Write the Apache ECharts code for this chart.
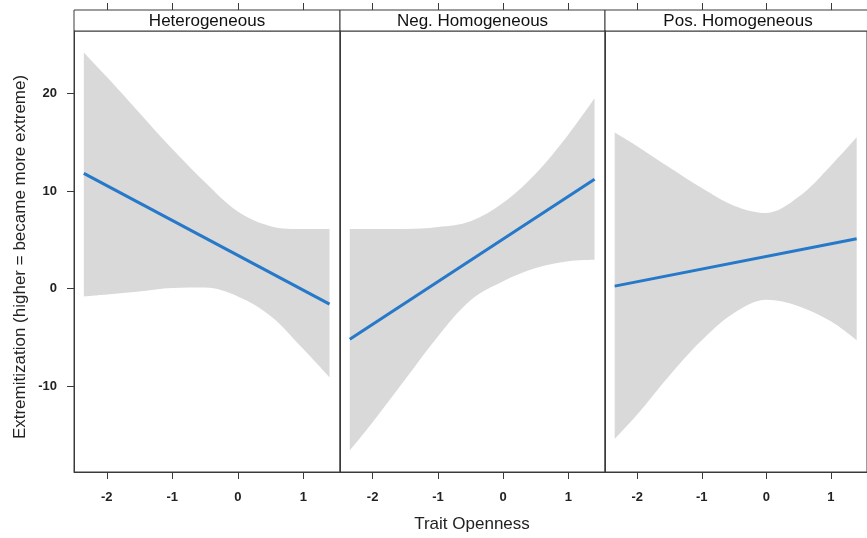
<!DOCTYPE html>
<html>
<head>
<meta charset="utf-8">
<script src="https://cdn.jsdelivr.net/npm/echarts@6/dist/echarts.min.js"></script>
<style>html,body{margin:0;padding:0;background:#fff}#c{width:867px;height:538px}</style>
</head>
<body>
<div id="c"></div>
<script>
// ---- data ----
const panels = ['Heterogeneous', 'Neg. Homogeneous', 'Pos. Homogeneous'];
const bandX = [-2.35, -2, -1.5, -1, -0.5, 0, 0.5, 1, 1.4];
const upperHet = [24.2, 21.7, 18.0, 14.3, 10.9, 7.9, 6.4, 6.1, 6.1];
const lowerHet = [-0.8, -0.6, -0.3, 0.05, 0.1, -0.8, -2.8, -6.2, -9.1];
const upperNeg = [6.1, 6.1, 6.1, 6.3, 6.9, 8.8, 11.8, 15.8, 19.5];
const lowerNeg = [-16.6, -13.7, -9.3, -4.9, -1.2, 0.75, 2.1, 2.8, 2.95];
const upperPos = [16.0, 14.6, 12.4, 10.3, 8.5, 7.75, 9.4, 12.6, 15.5];
const lowerPos = [-15.4, -12.9, -8.9, -5.3, -2.5, -1.15, -1.8, -3.35, -5.3];
const fitX = [-2.35, 1.4];
const fitHet = [11.8, -1.6];
const fitNeg = [-5.2, 11.2];
const fitPos = [0.25, 5.1];
const xTicks = [-2, -1, 0, 1];
const yTicks = [-10, 0, 10, 20];

const uppers = [upperHet, upperNeg, upperPos];
const lowers = [lowerHet, lowerNeg, lowerPos];
const fits = [fitHet, fitNeg, fitPos];

const FONT = '"Liberation Sans", Arial, sans-serif';
const AX = '#3a3a3a';
const xMin = -2.5, xMax = 1.56, yMin = -18.8, yMax = 26.4;
const lefts = [74, 340, 605];
const widths = [266, 265, 266];
const TOP = 31, H = 441, STRIP = 21;

const chart = echarts.init(document.getElementById('c'), null, {renderer: 'canvas'});

const grid = [], xAxis = [], yAxis = [], series = [], graphic = [];
for (let i = 0; i < 3; i++) {
  grid.push({left: lefts[i], top: TOP, width: widths[i], height: H, show: true,
    borderColor: AX, borderWidth: 1, backgroundColor: 'transparent'});
  xAxis.push({type: 'value', gridIndex: i, min: xMin, max: xMax, position: 'bottom', z: 10,
    splitLine: {show: false},
    axisLine: {show: true, onZero: false, lineStyle: {color: AX, width: 1}},
    axisTick: {show: true, length: 7, customValues: xTicks, lineStyle: {color: AX}},
    axisLabel: {customValues: xTicks, margin: 19, fontFamily: FONT, fontWeight: 'bold', fontSize: 13, color: '#222'}
  });
  yAxis.push({type: 'value', gridIndex: i, min: yMin, max: yMax, z: 10,
    splitLine: {show: false},
    axisLine: {show: true, onZero: false, lineStyle: {color: AX, width: 1}},
    axisTick: {show: i === 0, length: 7, customValues: yTicks, lineStyle: {color: AX}},
    axisLabel: {show: i === 0, customValues: yTicks, margin: 17, fontFamily: FONT, fontWeight: 'bold', fontSize: 13, color: '#222'}
  });
}
// top tick axes (above the strips)
for (let i = 0; i < 3; i++) {
  xAxis.push({type: 'value', gridIndex: i, min: xMin, max: xMax, position: 'top', offset: STRIP,
    splitLine: {show: false},
    axisLine: {show: false, onZero: false},
    axisTick: {show: true, length: 7, customValues: xTicks, lineStyle: {color: AX}},
    axisLabel: {show: false}
  });
}
for (let i = 0; i < 3; i++) {
  const lo = lowers[i], up = uppers[i];
  // data stored as [y, x] so that the stacked dimension is y
  series.push({type: 'line', name: 'lo' + i, xAxisIndex: i, yAxisIndex: i,
    data: bandX.map((x, j) => [lo[j], x]), encode: {x: 1, y: 0},
    stack: 'band' + i, stackStrategy: 'all', smooth: 0.35, symbol: 'none',
    lineStyle: {opacity: 0}, silent: true, z: 1});
  series.push({type: 'line', name: 'band' + i, xAxisIndex: i, yAxisIndex: i,
    data: bandX.map((x, j) => [up[j] - lo[j], x]), encode: {x: 1, y: 0},
    stack: 'band' + i, stackStrategy: 'all', smooth: 0.35, symbol: 'none',
    lineStyle: {opacity: 0}, areaStyle: {color: '#d9d9d9', opacity: 1}, silent: true, z: 1});
  series.push({type: 'line', name: 'fit' + i, xAxisIndex: i, yAxisIndex: i,
    data: fitX.map((x, j) => [x, fits[i][j]]),
    symbol: 'none', lineStyle: {color: '#2678c8', width: 3}, silent: true, z: 3});
  graphic.push({type: 'rect', shape: {x: lefts[i], y: TOP - STRIP, width: widths[i], height: STRIP},
    style: {fill: '#fff', stroke: AX, lineWidth: 1}, z: 10});
  graphic.push({type: 'text', x: lefts[i] + widths[i] / 2, y: TOP - STRIP / 2 + 0.5,
    style: {text: panels[i], font: '17px ' + FONT, fill: '#111', align: 'center', verticalAlign: 'middle',
      textAlign: 'center', textVerticalAlign: 'middle'}, z: 11});
}
graphic.push({type: 'text', x: 20, y: 257, rotation: Math.PI / 2,
  style: {text: 'Extremitization (higher = became more extreme)', font: '17px ' + FONT, fill: '#222',
    align: 'center', verticalAlign: 'middle', textAlign: 'center', textVerticalAlign: 'middle'}});
graphic.push({type: 'text', x: 472, y: 524,
  style: {text: 'Trait Openness', font: '17px ' + FONT, fill: '#222',
    align: 'center', verticalAlign: 'middle', textAlign: 'center', textVerticalAlign: 'middle'}});

chart.setOption({animation: false, backgroundColor: '#fff', grid, xAxis, yAxis, series, graphic});
</script>
</body>
</html>
